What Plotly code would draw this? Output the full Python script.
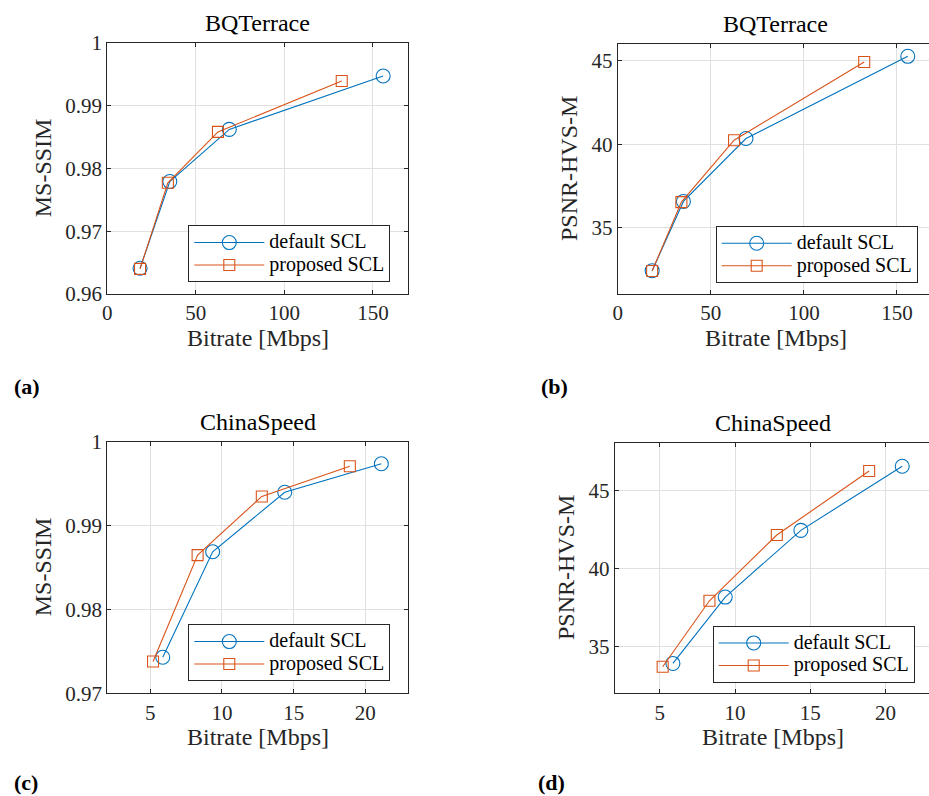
import plotly.graph_objects as go

# Rate-distortion results: bitrate [Mbps] vs. quality metric
bq_rate_default = [18.5, 35.3, 68.9, 155.8]
bq_rate_proposed = [18.5, 34.2, 62.5, 132.4]
bq_msssim_default = [0.9641, 0.9779, 0.9862, 0.9947]
bq_msssim_proposed = [0.9640, 0.9777, 0.9858, 0.9939]
bq_psnrhvsm_default = [32.40, 36.56, 40.34, 45.28]
bq_psnrhvsm_proposed = [32.38, 36.52, 40.24, 44.94]

cs_rate_default = [5.87, 9.35, 14.38, 21.12]
cs_rate_proposed = [5.19, 8.30, 12.78, 18.92]
cs_msssim_default = [0.9743, 0.9869, 0.9940, 0.9974]
cs_msssim_proposed = [0.9738, 0.9865, 0.9935, 0.9971]
cs_psnrhvsm_default = [33.91, 38.16, 42.43, 46.53]
cs_psnrhvsm_proposed = [33.70, 37.92, 42.13, 46.23]

series_names = ["default SCL", "proposed SCL"]
panel_titles = ["BQTerrace", "BQTerrace", "ChinaSpeed", "ChinaSpeed"]
panel_tags = ["(a)", "(b)", "(c)", "(d)"]
y_titles = ["MS-SSIM", "PSNR-HVS-M", "MS-SSIM", "PSNR-HVS-M"]
x_title = "Bitrate [Mbps]"

bq_x_ticks = [0, 50, 100, 150]
cs_x_ticks = [5, 10, 15, 20]
bq_msssim_ticks = [0.96, 0.97, 0.98, 0.99, 1.0]
bq_msssim_ticktext = ["0.96", "0.97", "0.98", "0.99", "1"]
cs_msssim_ticks = [0.97, 0.98, 0.99, 1.0]
cs_msssim_ticktext = ["0.97", "0.98", "0.99", "1"]
psnr_ticks = [35, 40, 45]

W, H = 929, 796
BLUE = "#0072BD"
ORANGE = "#D95319"
INK = "#262626"
GRID = "#e0e0e0"
FONT = "Liberation Serif"


def px(x):
    return x / W


def py(y):
    return 1 - y / H


def legend_label(name):
    # legend rows are spaced by the small legend font; the label itself is larger
    return f'<span style="font-size:20px">{name}</span>'


fig = go.Figure()

panels = [
    # (x default, y default, x proposed, y proposed)
    (bq_rate_default, bq_msssim_default, bq_rate_proposed, bq_msssim_proposed),
    (bq_rate_default, bq_psnrhvsm_default, bq_rate_proposed, bq_psnrhvsm_proposed),
    (cs_rate_default, cs_msssim_default, cs_rate_proposed, cs_msssim_proposed),
    (cs_rate_default, cs_psnrhvsm_default, cs_rate_proposed, cs_psnrhvsm_proposed),
]

for i, (xd, yd, xp, yp) in enumerate(panels):
    sfx = "" if i == 0 else str(i + 1)
    leg = "legend" if i == 0 else f"legend{i + 1}"
    fig.add_trace(go.Scatter(
        x=xd, y=yd, mode="lines+markers", name=legend_label(series_names[0]),
        line=dict(color=BLUE, width=1.1),
        marker=dict(symbol="circle-open", size=14, color=BLUE, line=dict(width=1.1)),
        xaxis="x" + sfx, yaxis="y" + sfx, legend=leg,
    ))
    fig.add_trace(go.Scatter(
        x=xp, y=yp, mode="lines+markers", name=legend_label(series_names[1]),
        line=dict(color=ORANGE, width=1.1),
        marker=dict(symbol="square-open", size=11, color=ORANGE, line=dict(width=1.1)),
        xaxis="x" + sfx, yaxis="y" + sfx, legend=leg,
    ))

# plot-area rectangles in pixels: left, top, right, bottom
boxes = [
    (107.3, 42.7, 408.3, 294.0),
    (617.7, 44.3, 929.0, 294.0),
    (107.3, 442.0, 408.3, 693.3),
    (614.7, 443.3, 929.0, 693.3),
]
x_ranges = [[0, 170], [0, 167.2], [2, 23], [2, 22.9]]
y_ranges = [[0.96, 1.0], [31, 46], [0.97, 1.0], [32, 48]]
x_ticks = [bq_x_ticks, bq_x_ticks, cs_x_ticks, cs_x_ticks]
y_ticks = [
    (bq_msssim_ticks, bq_msssim_ticktext),
    (psnr_ticks, [str(v) for v in psnr_ticks]),
    (cs_msssim_ticks, cs_msssim_ticktext),
    (psnr_ticks, [str(v) for v in psnr_ticks]),
]

axis_common = dict(
    showline=True, linecolor=INK, linewidth=1,
    ticks="inside", ticklen=4, tickcolor=INK, tickwidth=1,
    showgrid=True, gridcolor=GRID, gridwidth=1,
    zeroline=False, automargin=False,
    tickfont=dict(family=FONT, size=21, color=INK),
)

layout = {}
for i, (l, t, r, b) in enumerate(boxes):
    sfx = "" if i == 0 else str(i + 1)
    cut_right = r >= W
    layout["xaxis" + sfx] = dict(
        axis_common, domain=[px(l), px(r)], range=x_ranges[i],
        anchor="y" + sfx, tickvals=x_ticks[i], mirror="ticks",
    )
    layout["yaxis" + sfx] = dict(
        axis_common, domain=[py(b), py(t)], range=y_ranges[i],
        anchor="x" + sfx, tickvals=y_ticks[i][0], ticktext=y_ticks[i][1],
        mirror=False if cut_right else "ticks",
    )

# legend boxes (left, top) in pixels
legend_pos = [(188.3, 225.3), (715.7, 226.0), (188.3, 624.3), (712.7, 625.7)]
for i, (lx, ly) in enumerate(legend_pos):
    key = "legend" if i == 0 else f"legend{i + 1}"
    layout[key] = dict(
        x=px(lx), y=py(ly), xanchor="left", yanchor="top",
        bgcolor="white", bordercolor=INK, borderwidth=1,
        font=dict(family=FONT, size=15, color="black"),
        itemwidth=70, tracegroupgap=0,
    )

annotations = []
for i, (l, t, r, b) in enumerate(boxes):
    cx = (l + r) / 2 if r < W else (l + (934 if i == 1 else 931)) / 2
    annotations.append(dict(
        text=panel_titles[i], x=px(cx), y=py(t - 20), xref="paper", yref="paper",
        xanchor="center", yanchor="middle", showarrow=False,
        font=dict(family=FONT, size=24, color="black"),
    ))
    annotations.append(dict(
        text=x_title, x=px(cx), y=py(b + 44), xref="paper", yref="paper",
        xanchor="center", yanchor="middle", showarrow=False,
        font=dict(family=FONT, size=24, color=INK),
    ))
annotations += [
    dict(text=y_titles[0], x=px(43.3), y=py(168), textangle=-90),
    dict(text=y_titles[1], x=px(569), y=py(169), textangle=-90),
    dict(text=y_titles[2], x=px(43.3), y=py(567), textangle=-90),
    dict(text=y_titles[3], x=px(566), y=py(568), textangle=-90),
]
for a in annotations[-4:]:
    a.update(xref="paper", yref="paper", xanchor="center", yanchor="middle",
             showarrow=False, font=dict(family=FONT, size=24, color=INK))

# sub-figure tags; the lower row sits against the bottom edge
tag_pos = [(12.7, 386.7, "middle"), (540, 386.7, "middle"),
           (12.7, 796, "bottom"), (537, 796, "bottom")]
for tag, (tx, ty, anchor) in zip(panel_tags, tag_pos):
    annotations.append(dict(
        text=f"<b>{tag}</b>", x=px(tx), y=py(ty), xref="paper", yref="paper",
        xanchor="left", yanchor=anchor, showarrow=False, borderpad=0,
        font=dict(family=FONT, size=22, color="black"),
    ))

fig.update_layout(
    **layout,
    template="none",
    annotations=annotations,
    width=W, height=H,
    margin=dict(l=0, r=0, t=0, b=0, autoexpand=False),
    paper_bgcolor="white", plot_bgcolor="white",
    font=dict(family=FONT, color=INK),
    showlegend=True,
)

fig.write_html("out.html")
